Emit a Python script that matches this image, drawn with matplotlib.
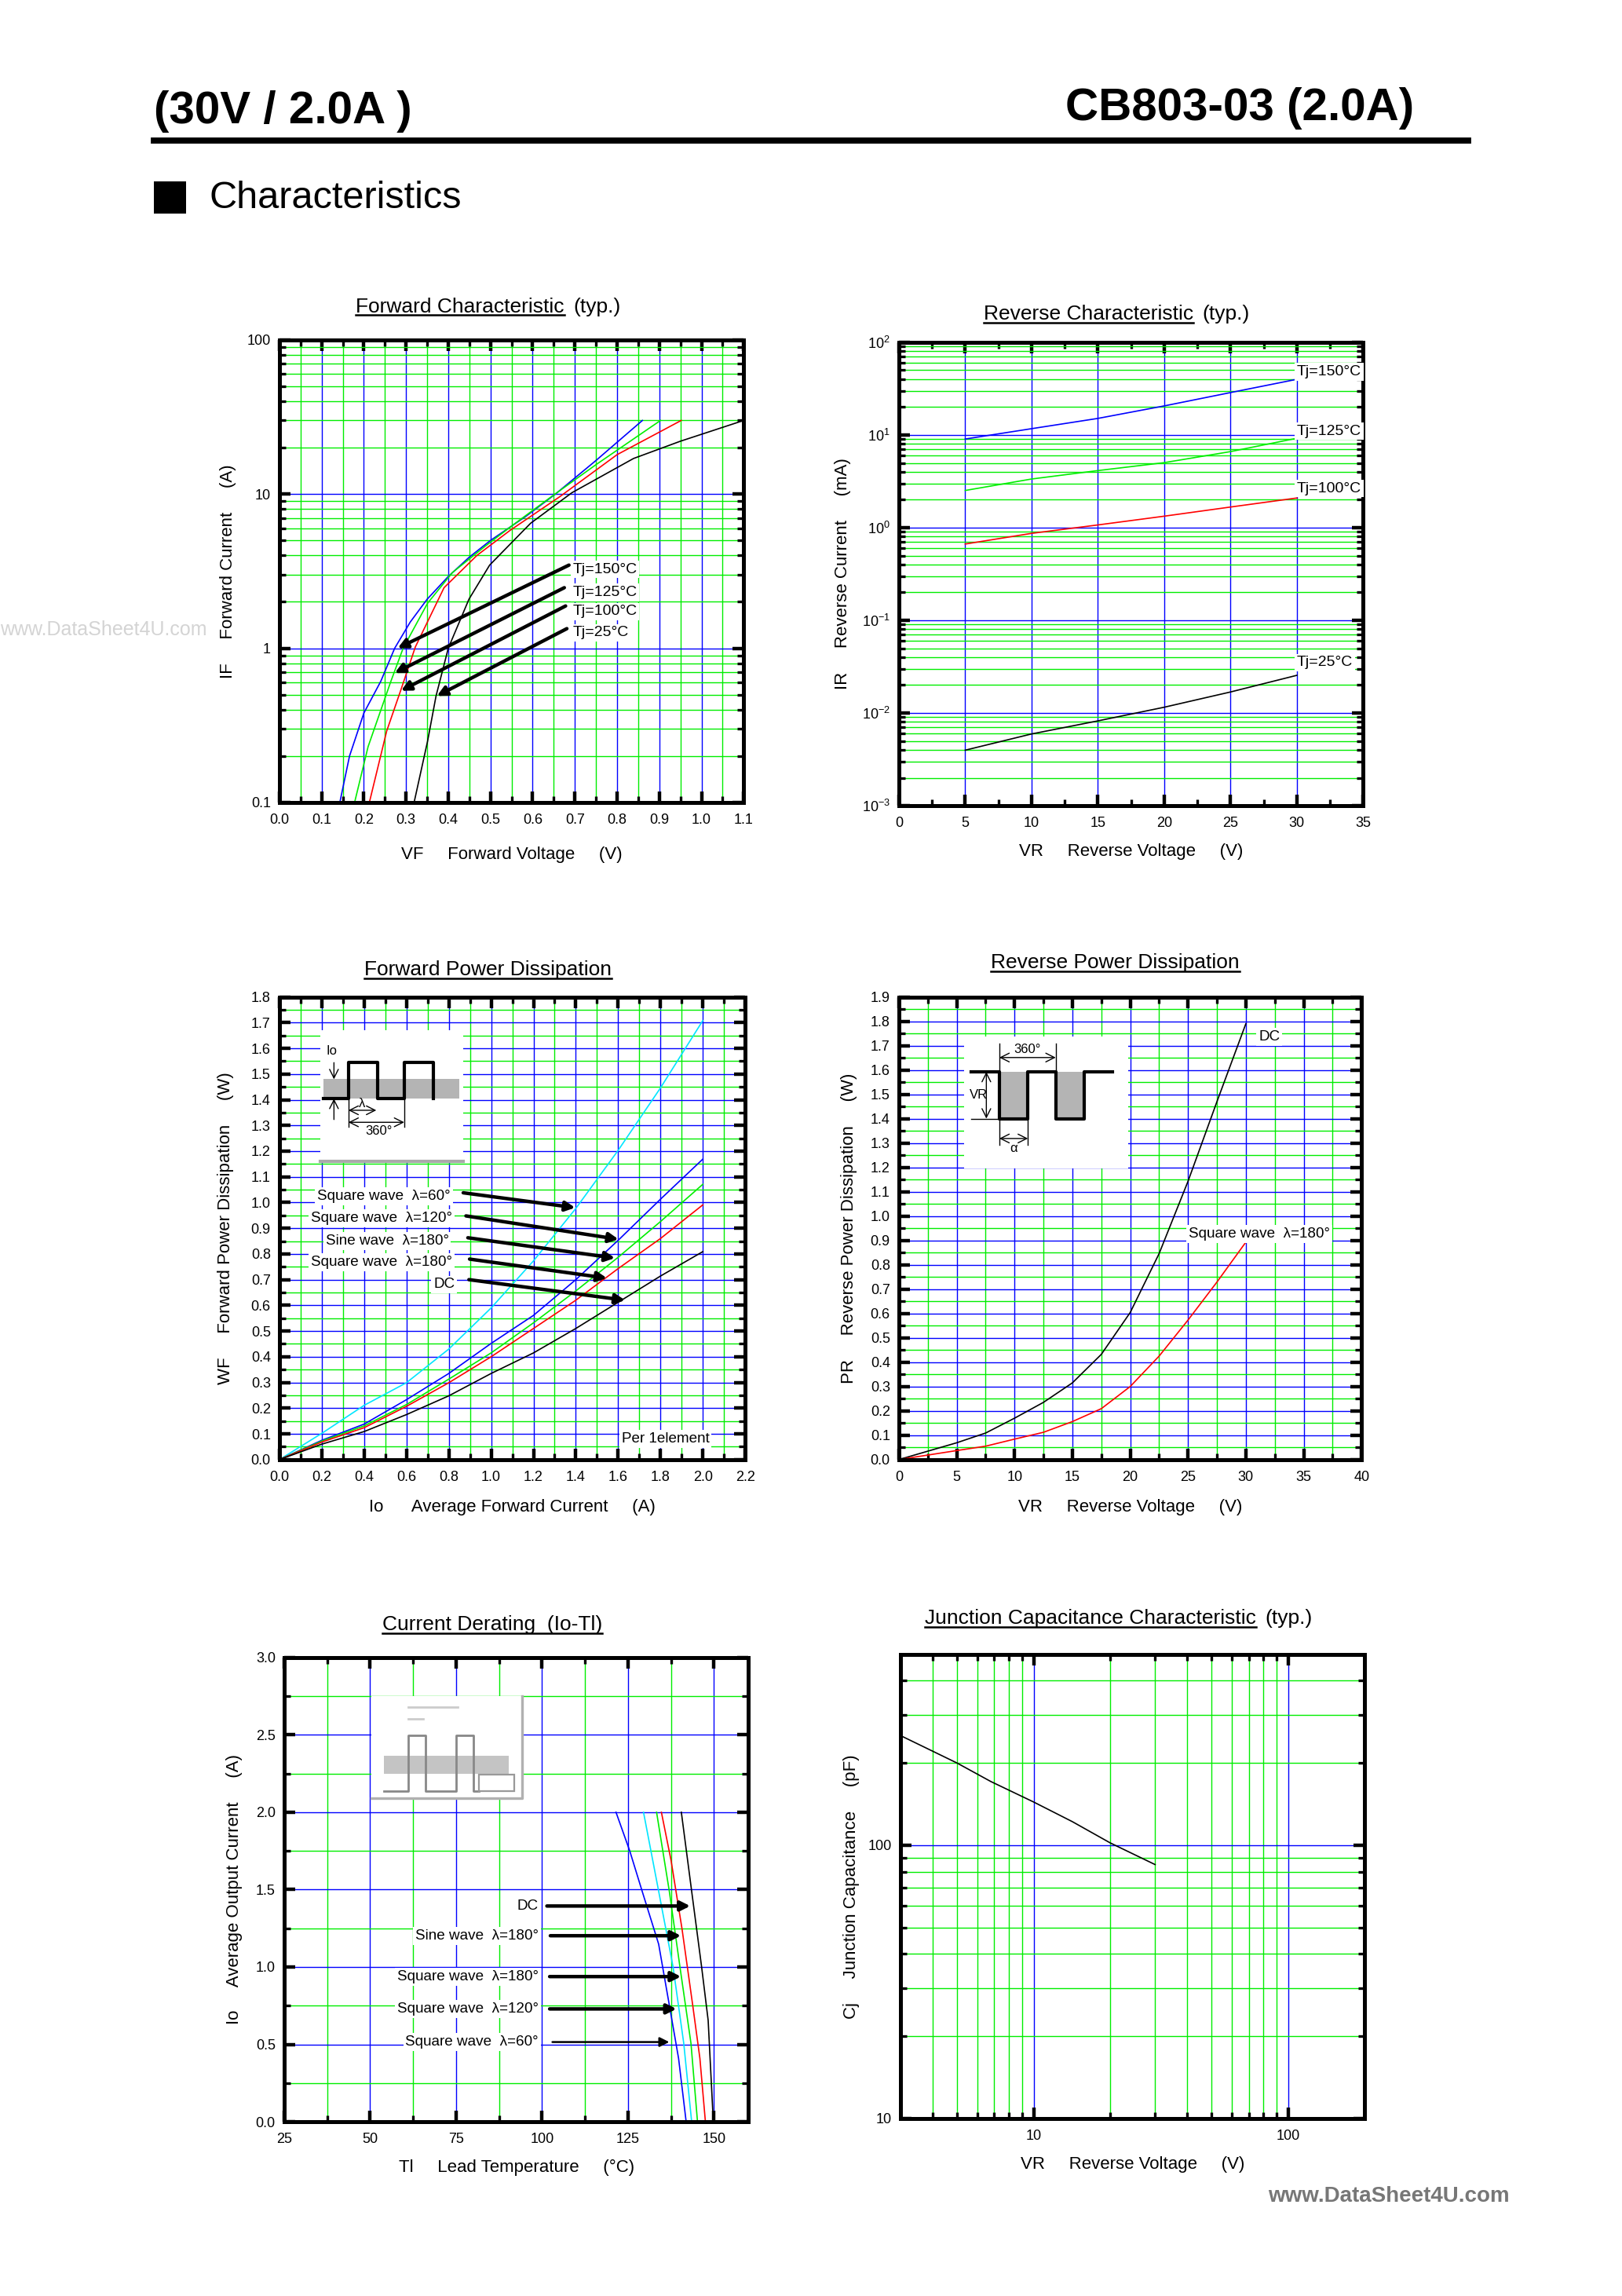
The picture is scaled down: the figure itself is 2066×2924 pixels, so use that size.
import numpy as np
import matplotlib
matplotlib.use('Agg')
import matplotlib.pyplot as plt
from matplotlib import font_manager
from matplotlib.ticker import MultipleLocator, LogLocator, NullFormatter, FuncFormatter, FormatStrFormatter, FixedLocator
from matplotlib.patches import Rectangle
from matplotlib.lines import Line2D

plt.rcParams['font.family'] = ['Liberation Sans', 'DejaVu Sans']
plt.rcParams['mathtext.fontset'] = 'custom'
plt.rcParams['mathtext.rm'] = 'Liberation Sans'
plt.rcParams['mathtext.it'] = 'Liberation Sans:italic'

BLUE = '#0000ff'
GREEN = '#00ee00'
CYAN = '#00e5ff'
RED = '#ff0000'

# ---- Forward characteristic (IF vs VF)
fc_vf_150 = [0.143, 0.166, 0.2, 0.24, 0.273, 0.31, 0.35, 0.4, 0.45, 0.5, 0.585, 0.654, 0.75, 0.86]
fc_if_150 = [0.1, 0.2, 0.38, 0.61, 1.0, 1.48, 2.08, 2.92, 3.9, 5.0, 7.2, 10, 16.5, 30]
fc_vf_125 = [0.178, 0.21, 0.263, 0.293, 0.351, 0.41, 0.488, 0.56, 0.644, 0.75, 0.903]
fc_if_125 = [0.1, 0.23, 0.6, 1.0, 1.96, 3.1, 4.6, 6.5, 9.6, 15.5, 30]
fc_vf_100 = [0.213, 0.254, 0.288, 0.322, 0.39, 0.468, 0.546, 0.664, 0.8, 0.952]
fc_if_100 = [0.1, 0.29, 0.54, 1.02, 2.47, 4.0, 5.8, 9.6, 18, 30]
fc_vf_25 = [0.319, 0.351, 0.371, 0.4, 0.449, 0.498, 0.595, 0.693, 0.839, 0.95, 1.1]
fc_if_25 = [0.1, 0.25, 0.49, 1.0, 2.08, 3.46, 6.46, 10.2, 17, 22, 30]
fc_labels = ['Tj=150°C', 'Tj=125°C', 'Tj=100°C', 'Tj=25°C']

# ---- Reverse characteristic (IR mA vs VR)
rc_vr = [5, 10, 15, 20, 25, 30]
rc_ir_150 = [9.05, 11.7, 15.1, 20.6, 28.7, 39.9]
rc_ir_125 = [2.52, 3.35, 4.13, 5.03, 6.62, 9.22]
rc_ir_100 = [0.666, 0.868, 1.07, 1.33, 1.67, 2.09]
rc_ir_25 = [0.00397, 0.00594, 0.00822, 0.01154, 0.01686, 0.0255]

# ---- Forward power dissipation
fpd_io = [0, 0.2, 0.4, 0.6, 0.8, 1.0, 1.2, 1.4, 1.6, 1.8, 2.0]
fpd_sq60 = [0, 0.102, 0.211, 0.299, 0.43, 0.59, 0.773, 0.977, 1.203, 1.446, 1.708]
fpd_sq120 = [0, 0.075, 0.138, 0.233, 0.335, 0.452, 0.561, 0.70, 0.853, 1.013, 1.169]
fpd_sine = [0, 0.072, 0.131, 0.214, 0.313, 0.415, 0.532, 0.656, 0.787, 0.926, 1.071]
fpd_sq180 = [0, 0.068, 0.124, 0.207, 0.299, 0.40, 0.51, 0.62, 0.743, 0.86, 0.991]
fpd_dc = [0, 0.06, 0.109, 0.175, 0.248, 0.335, 0.415, 0.51, 0.612, 0.714, 0.809]
wave_labels = ['Square wave  λ=60°', 'Square wave  λ=120°', 'Sine wave  λ=180°',
               'Square wave  λ=180°', 'DC']

# ---- Reverse power dissipation
rpd_vr = [0, 5, 7.5, 10, 12.5, 15, 17.5, 20, 22.5, 25, 27.5, 30]
rpd_dc = [0, 0.069, 0.109, 0.17, 0.235, 0.315, 0.432, 0.604, 0.846, 1.143, 1.47, 1.79]
rpd_sq180 = [0, 0.037, 0.055, 0.084, 0.112, 0.156, 0.209, 0.30, 0.425, 0.573, 0.729, 0.893]

# ---- Current derating (Io vs Tl)
cd_dc_t = [140.5, 143.5, 146.4, 148.3, 149.8]
cd_dc_io = [2.0, 1.49, 1.0, 0.655, 0.0]
cd_sin_t = [134.7, 137.5, 140.7, 143.8, 145.9, 147.5]
cd_sin_io = [2.0, 1.69, 1.246, 0.754, 0.409, 0.0]
cd_sq180_t = [133.3, 137.0, 140.1, 143.3, 145.2]
cd_sq180_io = [2.0, 1.49, 1.0, 0.507, 0.0]
cd_sq120_t = [129.5, 133.9, 138.1, 141.2, 143.5]
cd_sq120_io = [2.0, 1.49, 1.0, 0.507, 0.0]
cd_sq60_t = [121.5, 125.5, 129.1, 133.9, 137.0, 139.7, 141.9]
cd_sq60_io = [2.0, 1.75, 1.49, 1.148, 0.754, 0.409, 0.0]

# ---- Junction capacitance
jc_vr = [3, 5, 6.8, 10, 14.2, 20, 30]
jc_cj = [252, 200, 171, 144, 122, 102, 85]

fig = plt.figure(figsize=(10.33, 14.62), dpi=200)


def frame(ax, xpad=5, ypad=4):
    for s in ax.spines.values():
        s.set_linewidth(1.8)
    ax.tick_params(which='both', direction='in', top=True, right=True, labelsize=6.5)
    ax.tick_params(axis='x', pad=xpad)
    ax.tick_params(axis='y', pad=ypad)
    ax.tick_params(which='major', length=5, width=1.6)
    ax.tick_params(which='minor', length=3, width=1.2)
    ax.grid(which='major', color=BLUE, lw=0.5)
    ax.grid(which='minor', color=GREEN, lw=0.5)
    ax.set_axisbelow(True)


def arrow(ax, tail, head, lw=1.6, ms=9):
    ax.annotate('', xy=head, xytext=tail,
                arrowprops=dict(arrowstyle='-|>', color='k', lw=lw, mutation_scale=ms,
                                shrinkA=0, shrinkB=0))


WHITE = dict(fc='white', ec='none', pad=1)

# ======================= Forward Characteristic
ax = fig.add_axes([0.1723, 0.6505, 0.2862, 0.2015])
ax.set_yscale('log')
ax.set_xlim(0, 1.1)
ax.set_ylim(0.1, 100)
ax.xaxis.set_major_locator(MultipleLocator(0.1))
ax.xaxis.set_minor_locator(MultipleLocator(0.05))
ax.xaxis.set_major_formatter(FormatStrFormatter('%.1f'))
ax.yaxis.set_major_locator(FixedLocator([0.1, 1, 10, 100]))
ax.yaxis.set_minor_locator(LogLocator(subs=np.arange(2, 10)))
ax.yaxis.set_major_formatter(FuncFormatter(lambda v, p: '%g' % v))
ax.yaxis.set_minor_formatter(NullFormatter())
frame(ax)
ax.plot(fc_vf_150, fc_if_150, color=BLUE, lw=0.6)
ax.plot(fc_vf_125, fc_if_125, color=GREEN, lw=0.6)
ax.plot(fc_vf_100, fc_if_100, color=RED, lw=0.6)
ax.plot(fc_vf_25, fc_if_25, color='k', lw=0.6)
fc_tails = [(0.686, 3.46), (0.675, 2.47), (0.678, 1.88), (0.681, 1.34)]
fc_heads = [(0.28, 1.0), (0.273, 0.69), (0.288, 0.53), (0.373, 0.49)]
fc_text_y = [3.24, 2.30, 1.73, 1.26]
for lab, tl, hd, ty in zip(fc_labels, fc_tails, fc_heads, fc_text_y):
    arrow(ax, tl, hd)
    ax.text(0.695, ty, lab, fontsize=7, va='center', ha='left', bbox=WHITE)
ax.set_xlabel('VF     Forward Voltage     (V)', fontsize=8, labelpad=9)
ax.set_ylabel('IF     Forward Current     (A)', fontsize=8, labelpad=5,
              bbox=dict(fc='white', ec='none', pad=2))

# ======================= Reverse Characteristic
ax = fig.add_axes([0.5542, 0.6491, 0.2862, 0.2018])
ax.set_yscale('log')
ax.set_xlim(0, 35)
ax.set_ylim(1e-3, 1e2)
ax.xaxis.set_major_locator(MultipleLocator(5))
ax.xaxis.set_minor_locator(MultipleLocator(2.5))
ax.yaxis.set_major_locator(FixedLocator([1e-3, 1e-2, 1e-1, 1, 10, 100]))
ax.yaxis.set_minor_locator(LogLocator(subs=np.arange(2, 10)))
ax.yaxis.set_major_formatter(FuncFormatter(lambda v, p: r'$10^{%d}$' % round(np.log10(v))))
ax.yaxis.set_minor_formatter(NullFormatter())
frame(ax)
ax.xaxis.grid(False, which='minor')
ax.plot(rc_vr, rc_ir_150, color=BLUE, lw=0.6)
ax.plot(rc_vr, rc_ir_125, color=GREEN, lw=0.6)
ax.plot(rc_vr, rc_ir_100, color=RED, lw=0.6)
ax.plot(rc_vr, rc_ir_25, color='k', lw=0.6)
for lab, ty in zip(fc_labels, [48, 11, 2.65, 0.0349]):
    ax.text(30, ty, lab, fontsize=7, va='center', ha='left', bbox=WHITE)
ax.set_xlabel('VR     Reverse Voltage     (V)', fontsize=8, labelpad=6)
ax.set_ylabel('IR     Reverse Current     (mA)', fontsize=8, labelpad=5)

# ======================= Forward Power Dissipation
ax = fig.add_axes([0.1723, 0.3643, 0.2871, 0.2015])
ax.set_xlim(0, 2.2)
ax.set_ylim(0, 1.8)
ax.xaxis.set_major_locator(MultipleLocator(0.2))
ax.xaxis.set_minor_locator(MultipleLocator(0.1))
ax.yaxis.set_major_locator(MultipleLocator(0.1))
ax.yaxis.set_minor_locator(MultipleLocator(0.05))
ax.xaxis.set_major_formatter(FormatStrFormatter('%.1f'))
ax.yaxis.set_major_formatter(FormatStrFormatter('%.1f'))
frame(ax)
ax.plot(fpd_io, fpd_sq60, color=CYAN, lw=0.6)
ax.plot(fpd_io, fpd_sq120, color=BLUE, lw=0.6)
ax.plot(fpd_io, fpd_sine, color=GREEN, lw=0.6)
ax.plot(fpd_io, fpd_sq180, color=RED, lw=0.6)
ax.plot(fpd_io, fpd_dc, color='k', lw=0.6)
fpd_text_y = [1.025, 0.939, 0.851, 0.768, 0.681]
fpd_text_x = [0.808, 0.816, 0.80, 0.816, 0.828]
fpd_tails = [(0.868, 1.038), (0.881, 0.948), (0.89, 0.863), (0.898, 0.78), (0.895, 0.70)]
fpd_heads = [(1.397, 0.98), (1.602, 0.857), (1.585, 0.784), (1.547, 0.706), (1.633, 0.62)]
for lab, tx, ty, tl, hd in zip(wave_labels, fpd_text_x, fpd_text_y, fpd_tails, fpd_heads):
    ax.text(tx, ty, lab, fontsize=6.8, ha='right', va='center', bbox=WHITE)
    arrow(ax, tl, hd)
ax.text(1.616, 0.08, 'Per 1element', fontsize=6.8, ha='left', va='center', bbox=WHITE)
# waveform inset (axes fraction)
T = ax.transAxes
ax.add_patch(Rectangle((0.088, 0.642), 0.307, 0.286, transform=T, fc='white', ec='none', zorder=3))
ax.add_line(Line2D([0.088, 0.395], [0.644, 0.644], transform=T, color='#aaaaaa', lw=1.5, zorder=3))
ax.add_patch(Rectangle((0.095, 0.78), 0.291, 0.042, transform=T, fc='#b4b4b4', ec='none', zorder=3))
ax.add_line(Line2D([0.095, 0.148, 0.148, 0.21, 0.21, 0.268, 0.268, 0.33, 0.33],
                   [0.78, 0.78, 0.858, 0.858, 0.78, 0.78, 0.858, 0.858, 0.78],
                   transform=T, color='k', lw=1.5, zorder=4))
ax.text(0.113, 0.883, 'Io', transform=T, fontsize=6, ha='center', va='center', zorder=4)
for y0, y1 in [(0.858, 0.822), (0.735, 0.78)]:
    ax.annotate('', xy=(0.117, y1), xytext=(0.117, y0), xycoords=T, textcoords=T,
                arrowprops=dict(arrowstyle='->', lw=0.5, color='k', shrinkA=0, shrinkB=0), zorder=4)
ax.add_line(Line2D([0.148, 0.148], [0.78, 0.72], transform=T, color='k', lw=0.5, zorder=4))
ax.add_line(Line2D([0.268, 0.268], [0.78, 0.72], transform=T, color='k', lw=0.5, zorder=4))
ax.annotate('', xy=(0.208, 0.755), xytext=(0.148, 0.755), xycoords=T, textcoords=T,
            arrowprops=dict(arrowstyle='<->', lw=0.5, color='k', shrinkA=0, shrinkB=0), zorder=4)
ax.annotate('', xy=(0.268, 0.729), xytext=(0.148, 0.729), xycoords=T, textcoords=T,
            arrowprops=dict(arrowstyle='<->', lw=0.5, color='k', shrinkA=0, shrinkB=0), zorder=4)
ax.text(0.178, 0.77, 'λ', transform=T, fontsize=6, ha='center', va='center', zorder=4)
ax.text(0.213, 0.71, '360°', transform=T, fontsize=6, ha='center', va='center', zorder=4)
ax.set_xlabel('Io      Average Forward Current     (A)', fontsize=8, labelpad=7)
ax.set_ylabel('WF     Forward Power Dissipation     (W)', fontsize=8, labelpad=8)

# ======================= Reverse Power Dissipation
ax = fig.add_axes([0.5542, 0.3643, 0.2852, 0.2015])
ax.set_xlim(0, 40)
ax.set_ylim(0, 1.9)
ax.xaxis.set_major_locator(MultipleLocator(5))
ax.xaxis.set_minor_locator(MultipleLocator(2.5))
ax.yaxis.set_major_locator(MultipleLocator(0.1))
ax.yaxis.set_minor_locator(MultipleLocator(0.05))
ax.yaxis.set_major_formatter(FormatStrFormatter('%.1f'))
frame(ax)
ax.plot(rpd_vr, rpd_dc, color='k', lw=0.6)
ax.plot(rpd_vr, rpd_sq180, color=RED, lw=0.6)
ax.text(31.1, 1.736, 'DC', fontsize=6.8, ha='left', va='center', bbox=WHITE)
ax.text(25.05, 0.927, 'Square wave  λ=180°', fontsize=6.8, ha='left', va='center', bbox=WHITE)
T = ax.transAxes
ax.add_patch(Rectangle((0.141, 0.630), 0.354, 0.284, transform=T, fc='white', ec='none', zorder=3))
ax.add_patch(Rectangle((0.217, 0.737), 0.062, 0.101, transform=T, fc='#b4b4b4', ec='none', zorder=3))
ax.add_patch(Rectangle((0.339, 0.737), 0.061, 0.101, transform=T, fc='#b4b4b4', ec='none', zorder=3))
ax.add_line(Line2D([0.157, 0.217, 0.217, 0.279, 0.279, 0.339, 0.339, 0.400, 0.400, 0.461],
                   [0.838, 0.838, 0.737, 0.737, 0.838, 0.838, 0.737, 0.737, 0.838, 0.838],
                   transform=T, color='k', lw=1.5, zorder=4))
ax.add_line(Line2D([0.157, 0.217], [0.737, 0.737], transform=T, color='k', lw=0.5, zorder=4))
ax.add_line(Line2D([0.217, 0.217], [0.838, 0.899], transform=T, color='k', lw=0.5, zorder=4))
ax.add_line(Line2D([0.339, 0.339], [0.838, 0.899], transform=T, color='k', lw=0.5, zorder=4))
ax.add_line(Line2D([0.217, 0.217], [0.737, 0.68], transform=T, color='k', lw=0.5, zorder=4))
ax.add_line(Line2D([0.279, 0.279], [0.737, 0.68], transform=T, color='k', lw=0.5, zorder=4))
for (x0, y0), (x1, y1) in [((0.217, 0.869), (0.339, 0.869)), ((0.189, 0.737), (0.189, 0.838)),
                           ((0.217, 0.694), (0.279, 0.694))]:
    ax.annotate('', xy=(x1, y1), xytext=(x0, y0), xycoords=T, textcoords=T,
                arrowprops=dict(arrowstyle='<->', lw=0.5, color='k', shrinkA=0, shrinkB=0), zorder=4)
ax.text(0.278, 0.886, '360°', transform=T, fontsize=6, ha='center', va='center', zorder=4)
ax.text(0.172, 0.788, 'VR', transform=T, fontsize=6, ha='center', va='center', zorder=4)
ax.text(0.248, 0.672, 'α', transform=T, fontsize=6, ha='center', va='center', zorder=4)
ax.set_xlabel('VR     Reverse Voltage     (V)', fontsize=8, labelpad=7)
ax.set_ylabel('PR     Reverse Power Dissipation     (W)', fontsize=8, labelpad=6)

# ======================= Current Derating
ax = fig.add_axes([0.1752, 0.0759, 0.2862, 0.2022])
ax.set_xlim(25, 160)
ax.set_ylim(0, 3.0)
ax.xaxis.set_major_locator(FixedLocator([25, 50, 75, 100, 125, 150]))
ax.xaxis.set_minor_locator(FixedLocator([37.5, 62.5, 87.5, 112.5, 137.5]))
ax.yaxis.set_major_locator(MultipleLocator(0.5))
ax.yaxis.set_minor_locator(MultipleLocator(0.25))
ax.yaxis.set_major_formatter(FormatStrFormatter('%.1f'))
frame(ax)
ax.plot(cd_sq60_t, cd_sq60_io, color=BLUE, lw=0.6)
ax.plot(cd_sq120_t, cd_sq120_io, color=CYAN, lw=0.6)
ax.plot(cd_sq180_t, cd_sq180_io, color=GREEN, lw=0.6)
ax.plot(cd_sin_t, cd_sin_io, color=RED, lw=0.6)
ax.plot(cd_dc_t, cd_dc_io, color='k', lw=0.6)
cd_labels = ['DC', 'Sine wave  λ=180°', 'Square wave  λ=180°', 'Square wave  λ=120°', 'Square wave  λ=60°']
cd_text_y = [1.394, 1.202, 0.938, 0.729, 0.515]
cd_tail_x = [101.4, 102.4, 102.2, 102.2, 103.0]
cd_head_x = [143.1, 140.4, 140.4, 139.1, 137.0]
for lab, ty, tx0, tx1 in zip(cd_labels, cd_text_y, cd_tail_x, cd_head_x):
    ax.text(99.0, ty, lab, fontsize=6.8, ha='right', va='center', bbox=WHITE)
    arrow(ax, (tx0, ty), (tx1, ty), lw=1.6 if lab != cd_labels[-1] else 0.9)
T = ax.transAxes
ax.add_patch(Rectangle((0.187, 0.697), 0.326, 0.219, transform=T, fc='white', ec='none', zorder=3))
ax.add_line(Line2D([0.187, 0.513, 0.513], [0.697, 0.697, 0.916], transform=T, color='#b0b0b0', lw=1.2, zorder=3))
ax.add_patch(Rectangle((0.215, 0.750), 0.269, 0.039, transform=T, fc='#c4c4c4', ec='none', zorder=3))
ax.add_line(Line2D([0.215, 0.267, 0.267, 0.304, 0.304, 0.370, 0.370, 0.407, 0.407, 0.42],
                   [0.713, 0.713, 0.832, 0.832, 0.713, 0.713, 0.832, 0.832, 0.713, 0.713],
                   transform=T, color='#888888', lw=1.0, zorder=4))
ax.add_patch(Rectangle((0.420, 0.713), 0.075, 0.035, transform=T, fc='none', ec='#999999', lw=0.8, zorder=4))
ax.add_line(Line2D([0.267, 0.373], [0.893, 0.893], transform=T, color='#cccccc', lw=1.0, zorder=4))
ax.add_line(Line2D([0.267, 0.300], [0.868, 0.868], transform=T, color='#cccccc', lw=1.0, zorder=4))
ax.set_xlabel('Tl     Lead Temperature     (°C)', fontsize=8, labelpad=6)
ax.set_ylabel('Io     Average Output Current     (A)', fontsize=8, labelpad=6)

# ======================= Junction Capacitance
ax = fig.add_axes([0.5552, 0.0773, 0.2862, 0.2022])
ax.set_xscale('log')
ax.set_yscale('log')
ax.set_xlim(3, 200)
ax.set_ylim(10, 500)
ax.xaxis.set_major_locator(FixedLocator([10, 100]))
ax.xaxis.set_minor_locator(LogLocator(subs=np.arange(2, 10)))
ax.yaxis.set_major_locator(FixedLocator([10, 100]))
ax.yaxis.set_minor_locator(LogLocator(subs=np.arange(2, 10)))
for a in (ax.xaxis, ax.yaxis):
    a.set_major_formatter(FuncFormatter(lambda v, p: '%d' % v))
    a.set_minor_formatter(NullFormatter())
frame(ax)
ax.plot(jc_vr, jc_cj, color='k', lw=0.6)
ax.set_xlabel('VR     Reverse Voltage     (V)', fontsize=8, labelpad=6)
ax.set_ylabel('Cj     Junction Capacitance     (pF)', fontsize=8, labelpad=4)

# ======================= Page header
installed = {f.name for f in font_manager.fontManager.ttflist}
if 'Liberation Sans Narrow' in installed:
    head_font, head_size = ['Liberation Sans Narrow', 'Liberation Sans'], 25.5
else:
    head_font, head_size = ['Liberation Sans', 'DejaVu Sans'], 21
fig.text(0.0949, 0.9515, '(30V / 2.0A )', fontsize=head_size, fontweight='bold', family=head_font,
         ha='left', va='center')
fig.text(0.8718, 0.9528, 'CB803-03 (2.0A)', fontsize=head_size, fontweight='bold', family=head_font,
         ha='right', va='center')
fig.add_artist(Line2D([0.0949, 0.9052], [0.9388, 0.9388], transform=fig.transFigure, color='k', lw=2.8))
fig.add_artist(Rectangle((0.0949, 0.907), 0.0198, 0.014, transform=fig.transFigure, fc='k', ec='none'))
fig.text(0.1292, 0.9138, 'Characteristics', fontsize=17.5, ha='left', va='center')
fig.text(0.0, 0.7257, 'www.DataSheet4U.com', fontsize=9, color='#d4d4d4', ha='left', va='center', zorder=0)
fig.text(0.7817, 0.0434, 'www.DataSheet4U.com', fontsize=10, fontweight='bold', color='#777777',
         ha='left', va='center')

# ======================= Chart titles (underlined part + rest)
titles = [(0.2193, 0.8640, 'Forward Characteristic', '(typ.)'),
          (0.6065, 0.8608, 'Reverse Characteristic', '(typ.)'),
          (0.2247, 0.5753, 'Forward Power Dissipation', ''),
          (0.6110, 0.5783, 'Reverse Power Dissipation', ''),
          (0.2356, 0.2900, 'Current Derating  (Io-Tl)', ''),
          (0.5703, 0.2927, 'Junction Capacitance Characteristic', '(typ.)')]
title_texts = [fig.text(x, y, s, fontsize=9.5, ha='left', va='baseline') for x, y, s, _ in titles]
fig.canvas.draw()
renderer = fig.canvas.get_renderer()
for t, (x, y, s, rest) in zip(title_texts, titles):
    bb = t.get_window_extent(renderer).transformed(fig.transFigure.inverted())
    fig.add_artist(Line2D([bb.x0, bb.x1], [y - 0.0013, y - 0.0013], transform=fig.transFigure,
                          color='k', lw=0.9))
    if rest:
        fig.text(bb.x1 + 0.0055, y, rest, fontsize=9.5, ha='left', va='baseline')

fig.savefig('out.png', dpi=200, facecolor='white')
